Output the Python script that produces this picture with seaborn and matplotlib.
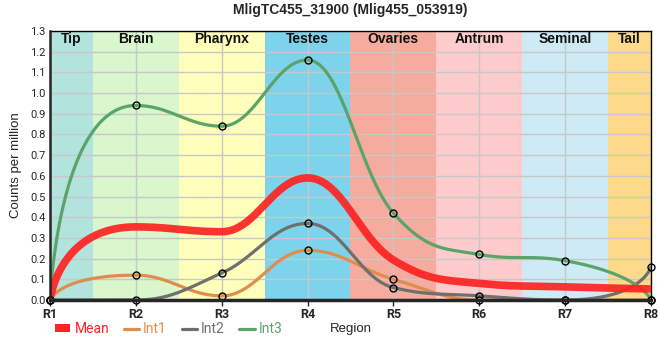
import numpy as np
import pandas as pd
import seaborn as sns
import matplotlib.pyplot as plt
from matplotlib.patches import Patch
from matplotlib.lines import Line2D

regions = ["R1", "R2", "R3", "R4", "R5", "R6", "R7", "R8"]
int1 = [0.0, 0.12, 0.02, 0.24, 0.10, 0.0, 0.0, 0.0]
int2 = [0.0, 0.0, 0.13, 0.37, 0.06, 0.02, 0.0, 0.16]
int3 = [0.0, 0.94, 0.84, 1.16, 0.42, 0.22, 0.19, 0.0]
mean = list(np.mean([int1, int2, int3], axis=0))

band_names = ["Tip", "Brain", "Pharynx", "Testes", "Ovaries", "Antrum", "Seminal", "Tail"]
band_colors = ["#b3e3dd", "#d9f6cc", "#ffffbb", "#7dd3eb", "#f5ab9d", "#fdcbcb", "#cdeaf5", "#fdda8b"]

series_names = ["Int1", "Int2", "Int3"]
series_colors = ["#dd8e4f", "#6f6f6f", "#5aa46a"]
mean_color = "#ff2222"


def spline_curve(y, n=80):
    # bezier spline (control points 0.4 of the step away, flattened at peaks)
    y = np.asarray(y, float)
    k = len(y)
    x = np.arange(k, dtype=float)
    lx, ly, rx, ry = x.copy(), y.copy(), x.copy(), y.copy()
    for i in range(1, k - 1):
        a, b, c = y[i - 1], y[i], y[i + 1]
        l = (1.5 * b + a) / 2.5
        r = (1.5 * b + c) / 2.5
        corr = (r - l) * 0.5 + b - r
        l += corr
        r += corr
        if l > a and l > b:
            l = max(a, b); r = 2 * b - l
        elif l < a and l < b:
            l = min(a, b); r = 2 * b - l
        if r > c and r > b:
            r = max(c, b); l = 2 * b - r
        elif r < c and r < b:
            r = min(c, b); l = 2 * b - r
        lx[i], ly[i], rx[i], ry[i] = x[i] - 0.4, l, x[i] + 0.4, r
    # segments touching the ends pull harder toward the end point
    f = 0.9 / 0.4
    lx[1] = x[1] - 0.9
    ly[1] = np.clip(y[1] + (ly[1] - y[1]) * f, min(y[0], y[1]), max(y[0], y[1]))
    rx[k - 2] = x[k - 2] + 0.9
    ry[k - 2] = np.clip(y[k - 2] + (ry[k - 2] - y[k - 2]) * f, min(y[-1], y[-2]), max(y[-1], y[-2]))
    xs, ys = [], []
    t = np.linspace(0, 1, n)
    for i in range(k - 1):
        p = [(x[i], y[i]), (rx[i], ry[i]), (lx[i + 1], ly[i + 1]), (x[i + 1], y[i + 1])]
        w = [(1 - t) ** 3, 3 * (1 - t) ** 2 * t, 3 * (1 - t) * t ** 2, t ** 3]
        xs.append(sum(wi * pi[0] for wi, pi in zip(w, p)))
        ys.append(sum(wi * pi[1] for wi, pi in zip(w, p)))
    return np.concatenate(xs), np.concatenate(ys)


sns.set_style("white")
plt.rcParams['font.family'] = ['Liberation Sans', 'DejaVu Sans']

fig = plt.figure(figsize=(6.6, 3.6), dpi=100)
ax = fig.add_axes([50 / 660, 60 / 360, 601 / 660, 269 / 360])

xpos = np.arange(len(regions))
for i, (name, col) in enumerate(zip(band_names, band_colors)):
    lo = max(i - 0.5, 0)
    hi = min(i + 0.5, len(regions) - 1)
    ax.axvspan(lo, hi, color=col, zorder=0, lw=0)
    ax.text((lo + hi) / 2, 1.262, name, ha='center', va='center',
            fontsize=10, fontweight='bold', color='#111111', zorder=5)

for gx in xpos:
    ax.axvline(gx, color='#c8c8c8', lw=1, zorder=1)
for gy in np.arange(0.1, 1.31, 0.1):
    ax.axhline(gy, color='#c8c8c8', lw=1, zorder=1)

for name, col, vals in zip(series_names, series_colors, [int1, int2, int3]):
    cx, cy = spline_curve(vals)
    sns.lineplot(x=cx, y=cy, ax=ax, color=col, lw=2.3, sort=False, zorder=3)
cx, cy = spline_curve(mean)
sns.lineplot(x=cx, y=cy, ax=ax, color=mean_color, lw=5.5, alpha=0.92, sort=False, zorder=4)

for vals in [int1, int2, int3]:
    ax.plot(xpos, vals, 'o', ms=5, mfc='none', mec='black', mew=1, zorder=6, clip_on=False)

ax.set_xlim(0, len(regions) - 1)
ax.set_ylim(0, 1.3)
ax.set_xticks(xpos)
ax.set_xticklabels(regions, fontsize=9, fontweight='bold', family='Roboto')
ax.set_yticks(np.round(np.arange(0, 1.31, 0.1), 1))
ax.set_yticklabels([f"{v:.1f}" for v in np.arange(0, 1.31, 0.1)], fontsize=8, family='Roboto')
ax.tick_params(axis='x', length=4, width=1, pad=2, direction='out', bottom=True)
ax.tick_params(axis='y', length=0, pad=3)
for side in ['top', 'right']:
    ax.spines[side].set_linewidth(1)
    ax.spines[side].set_color('black')
ax.spines['bottom'].set_linewidth(2.5)
ax.spines['left'].set_linewidth(1.8)
ax.spines['bottom'].set_zorder(7)
ax.spines['left'].set_zorder(7)

ax.set_title("MligTC455_31900 (Mlig455_053919)", fontsize=10, fontweight='bold', pad=12)
ax.set_ylabel("Counts per million", fontsize=9.5, labelpad=6)
fig.text(351 / 660, 1 - 329 / 360, "Region", ha='center', va='center', fontsize=9.5)

handles = [Patch(color=mean_color, lw=0)]
handles += [Line2D([0], [0], color=c, lw=2.3) for c in series_colors]
leg = fig.legend(handles, ["Mean"] + series_names, loc='center left',
                 bbox_to_anchor=(55 / 660, 1 - 329 / 360), ncol=4, frameon=False,
                 borderpad=0, borderaxespad=0,
                 handlelength=1.1, handleheight=0.5, handletextpad=0.3,
                 columnspacing=1.05, prop={'family': 'Roboto', 'size': 10})
for txt, c in zip(leg.get_texts(), [mean_color] + series_colors):
    txt.set_color(c)

fig.savefig("out.png", dpi=100)
